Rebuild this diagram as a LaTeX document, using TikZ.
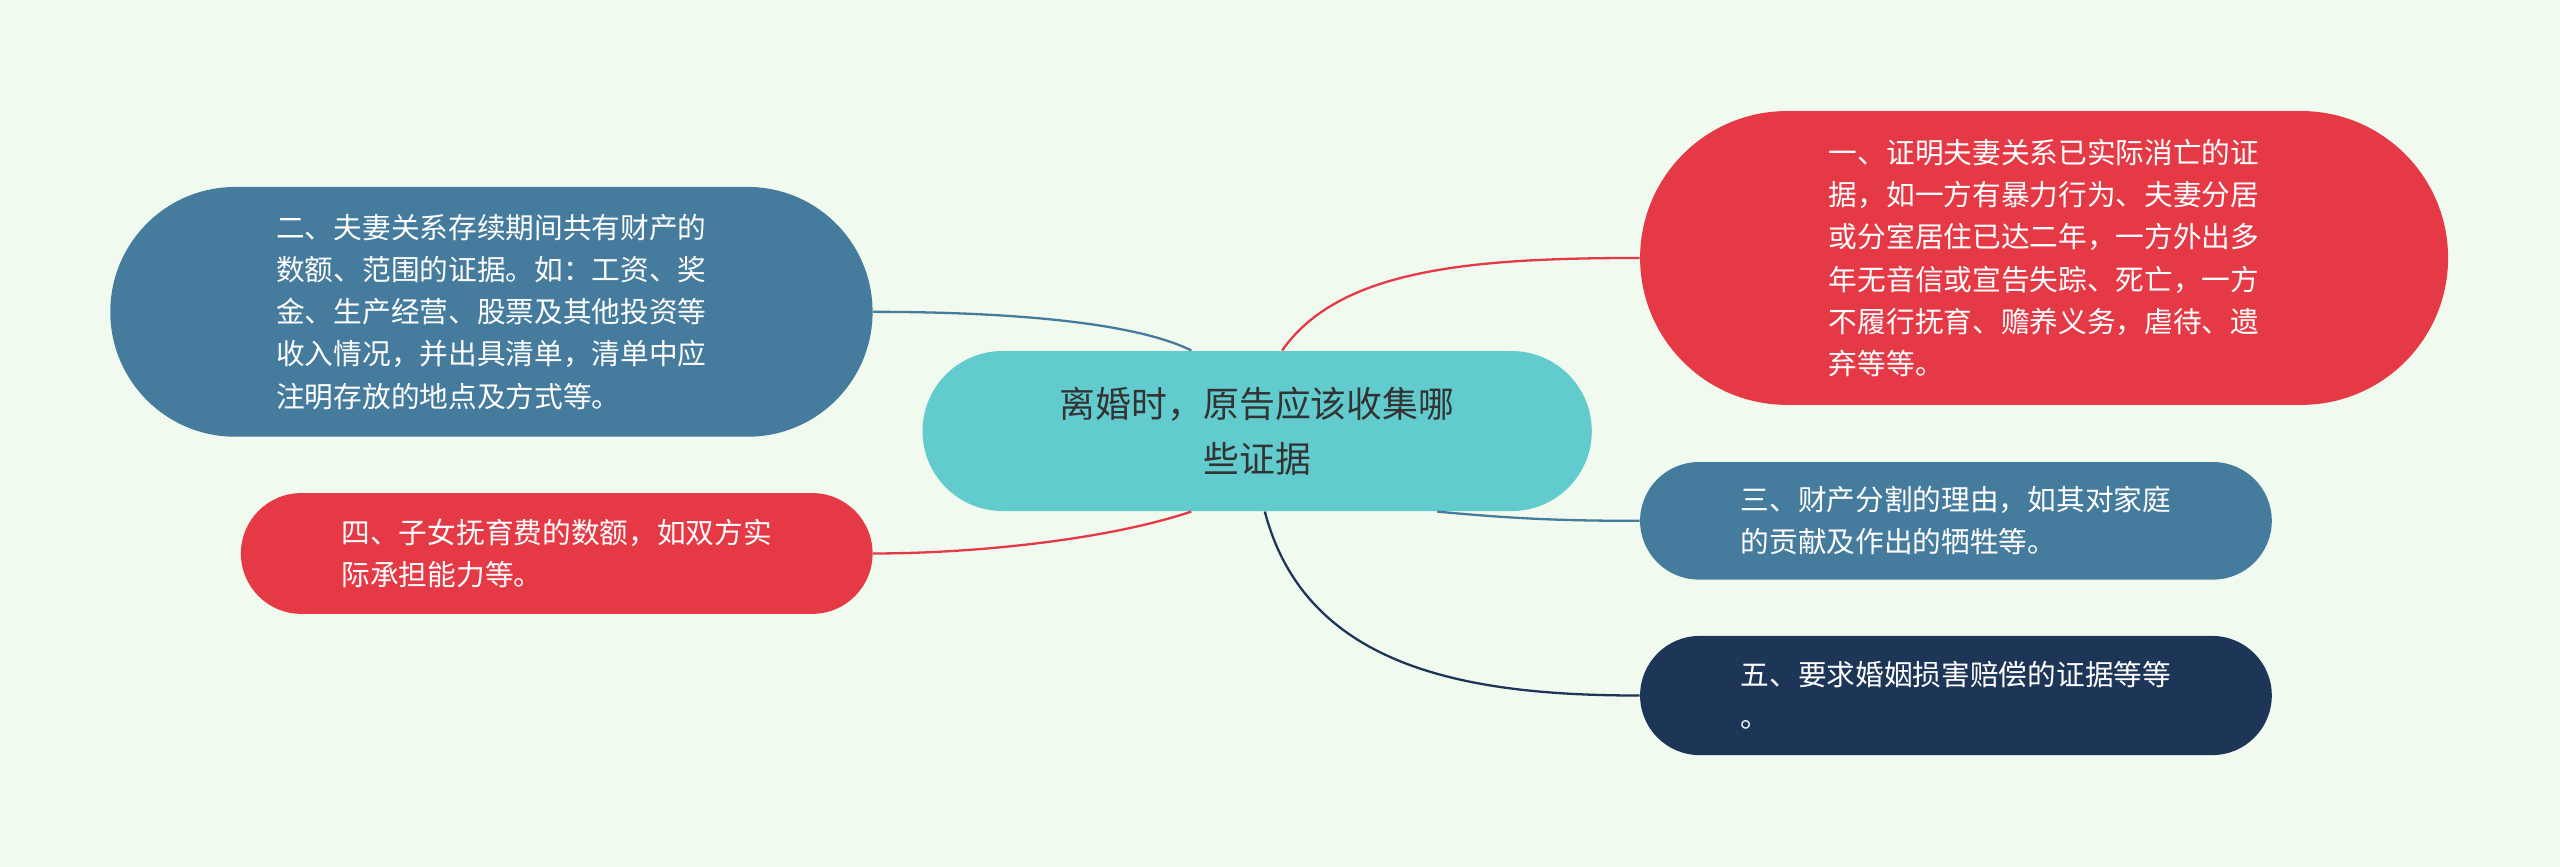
\documentclass[tikz,border=0pt]{standalone}
\usepackage{fontspec}
\setmainfont{Noto Sans CJK SC}
\usetikzlibrary{positioning}
\definecolor{bgcol}{HTML}{F1FAEE}
\definecolor{tealc}{HTML}{62CBCE}
\definecolor{redc}{HTML}{E63946}
\definecolor{bluec}{HTML}{457B9D}
\definecolor{navyc}{HTML}{1D3557}
\tikzset{
	topic/.style={
		rectangle,
		draw=none,
		text=white,
		align=left,
		font=\fontsize{10}{14.7}\selectfont},
	link/.style={draw, thick},
}
\begin{document}
\begin{tikzpicture}[x=0.02cm,y=-0.02cm]
\fill[bgcol] (0,0) rectangle (1568,531);

\node[topic, fill=tealc, text=black!80, align=center, rounded corners=0.98cm,
	minimum width=8.2cm, minimum height=1.96cm,
	font=\fontsize{12.5}{19}\selectfont] (root) at (770,264)
	{离婚时，原告应该收集哪\\些证据};

\node[topic, fill=redc, rounded corners=1.8cm,
	minimum width=9.9cm, minimum height=3.6cm] (proof) at (1252,158)
	{一、证明夫妻关系已实际消亡的证\\据，如一方有暴力行为、夫妻分居\\或分室居住已达二年，一方外出多\\年无音信或宣告失踪、死亡，一方\\不履行抚育、赡养义务，虐待、遗\\弃等等。};
\node[topic, fill=bluec, rounded corners=1.53cm,
	minimum width=9.34cm, minimum height=3.06cm] (asset) at (301,191)
	{二、夫妻关系存续期间共有财产的\\数额、范围的证据。如：工资、奖\\金、生产经营、股票及其他投资等\\收入情况，并出具清单，清单中应\\注明存放的地点及方式等。};
\node[topic, fill=redc, rounded corners=0.74cm,
	minimum width=7.74cm, minimum height=1.48cm] (child) at (341,339)
	{四、子女抚育费的数额，如双方实\\际承担能力等。};
\node[topic, fill=bluec, rounded corners=0.72cm,
	minimum width=7.74cm, minimum height=1.44cm] (split) at (1198,319)
	{三、财产分割的理由，如其对家庭\\的贡献及作出的牺牲等。};
\node[topic, fill=navyc, rounded corners=0.73cm,
	minimum width=7.74cm, minimum height=1.46cm] (harm) at (1198,426)
	{五、要求婚姻损害赔偿的证据等等\\。};

% connectors
\draw[link, redc] (root.north east) ++(-190,0) coordinate (r1)
	(r1) .. controls (820,165) and (900,158) .. (proof.west);
\draw[link, bluec] (root.north west) ++(165,0) coordinate (r2)
	(r2) .. controls (690,195) and (600,191) .. (asset.east);
\draw[link, redc] (root.south west) ++(165,0) coordinate (r3)
	(r3) .. controls (680,330) and (600,339) .. (child.east);
\draw[link, bluec] (root.south east) ++(-95,0) coordinate (r4)
	(r4) .. controls (930,318) and (960,319) .. (split.west);
\draw[link, navyc] (root.south west) ++(210,0) coordinate (r5)
	(r5) .. controls (800,410) and (900,426) .. (harm.west);
\end{tikzpicture}
\end{document}
